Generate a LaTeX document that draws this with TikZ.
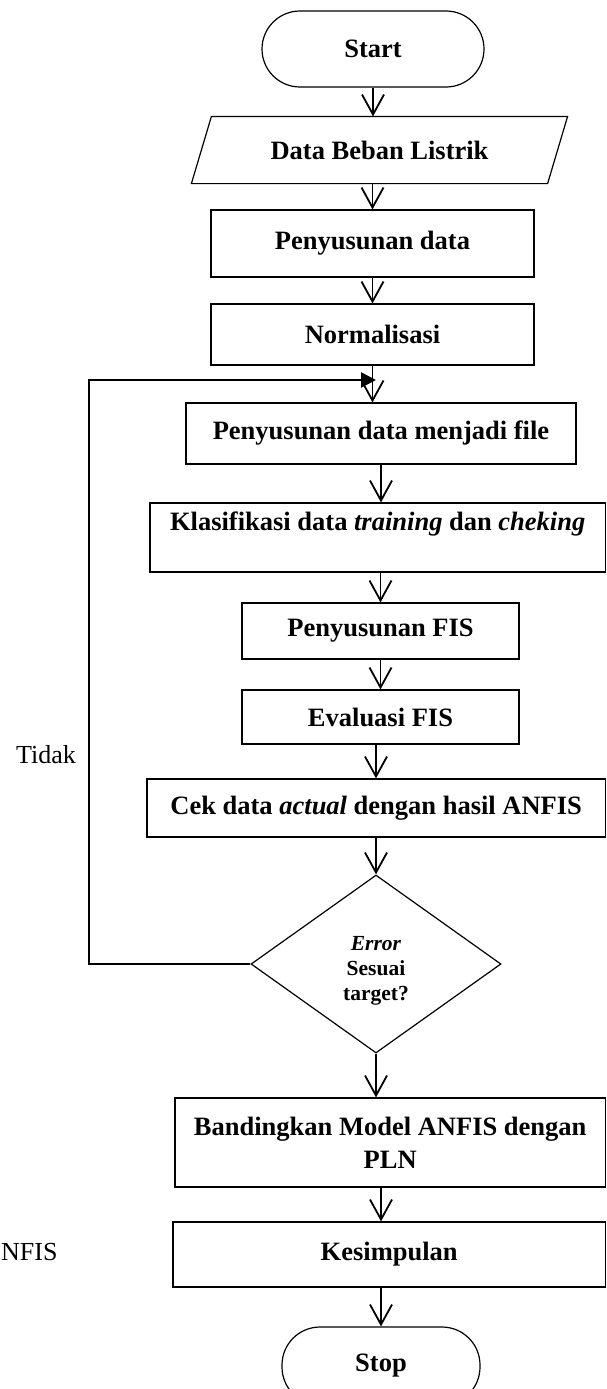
\documentclass[tikz,border=0pt]{standalone}
\usepackage{fontspec}
\setmainfont{Liberation Serif}
\usetikzlibrary{arrows.meta,shapes.geometric,calc}
\begin{document}
\begin{tikzpicture}[x=1pt,y=-1pt,
  box/.style={draw,line width=1.2pt,rectangle,inner sep=0pt,align=center,
    font=\fontsize{26.5}{33}\selectfont\bfseries},
  term/.style={box,rounded corners=38pt},
  plain/.style={inner sep=0pt,font=\fontsize{26}{30}\selectfont},
  arr/.style={line width=1.8pt,-{Straight Barb[length=20pt,width=22pt,line width=1.8pt]}},
  fb/.style={line width=2.4pt,-{Triangle[length=15pt,width=15pt]}},
  dia/.style={draw,line width=1.2pt,diamond,inner sep=0pt,minimum width=250pt,minimum height=178pt,
    align=center,font=\fontsize{21.5}{25}\selectfont\bfseries}
]
\useasboundingbox (0,0) rectangle (606,1389);
\clip (0,0) rectangle (606,1389);

\node[term,minimum width=222pt,minimum height=76pt] (start) at (373,49) {Start};
\node[box,draw=none,minimum width=355pt,minimum height=66pt] (data) at (379.5,150) {Data Beban Listrik};
\draw[line width=1.2pt] ([xshift=10pt]data.north west) -- ([xshift=10pt]data.north east)
  -- ([xshift=-10pt]data.south east) -- ([xshift=-10pt]data.south west) -- cycle;
\node[box,minimum width=323pt,minimum height=67pt] (prep) at (372.5,243.5) {Penyusunan data};
\node[box,minimum width=323pt,minimum height=61pt] (norm) at (372.5,334.5) {Normalisasi};
\node[box,minimum width=390pt,minimum height=61pt] (file) at (381,433.5) {Penyusunan data menjadi file};
\node[box,minimum width=455.4pt,minimum height=69pt] (klas) at (377.7,537.5)
  {Klasifikasi data \textit{training} dan \textit{cheking}\\ \mbox{}};
\node[box,minimum width=277pt,minimum height=56pt] (pfis) at (380.5,631) {Penyusunan FIS};
\node[box,minimum width=277pt,minimum height=54pt] (eval) at (380.5,717) {Evaluasi FIS};
\node[box,minimum width=458.4pt,minimum height=58pt] (cek) at (376.2,808)
  {Cek data \textit{actual} dengan hasil ANFIS};
\node[dia] (dec) at (376,964) {\rule{0pt}{27pt}\textit{Error}\\Sesuai\\target?};
\node[box,minimum width=430.4pt,minimum height=89pt] (band) at (390.2,1142.5)
  {Bandingkan Model ANFIS dengan\\PLN};
\node[box,minimum width=432.4pt,minimum height=65pt] (kes) at (389.2,1254.5) {Kesimpulan};
\node[term,minimum width=198pt,minimum height=78pt] (stop) at (381,1366) {Stop};

\node[plain] (tidak) at (46,755) {Tidak};
\node[plain,anchor=west] (nfis) at (1,1252) {NFIS};

\coordinate (corner) at (89,380);
\coordinate (join) at (376,380);

\draw[arr] (start.south) -- (start.south |- data.north);
\draw[arr] (data.south -| prep.north) -- (prep.north);
\draw[arr] (prep.south) -- (norm.north);
\draw[arr] (norm.south) -- (norm.south |- file.north);
\draw[arr] (file.south) -- (file.south |- klas.north);
\draw[arr] (klas.south -| pfis.north) -- (pfis.north);
\draw[arr] (pfis.south) -- (eval.north);
\draw[arr] (eval.south -| dec.north) -- (cek.north -| dec.north);
\draw[arr] (cek.south -| dec.north) -- (dec.north);
\draw[arr] (dec.south) -- (dec.south |- band.north);
\draw[arr] (band.south -| stop.north) -- (kes.north -| stop.north);
\draw[arr] (kes.south -| stop.north) -- (stop.north);
\draw[fb] (dec.west) -| (corner) -- (join);
\end{tikzpicture}
\end{document}
